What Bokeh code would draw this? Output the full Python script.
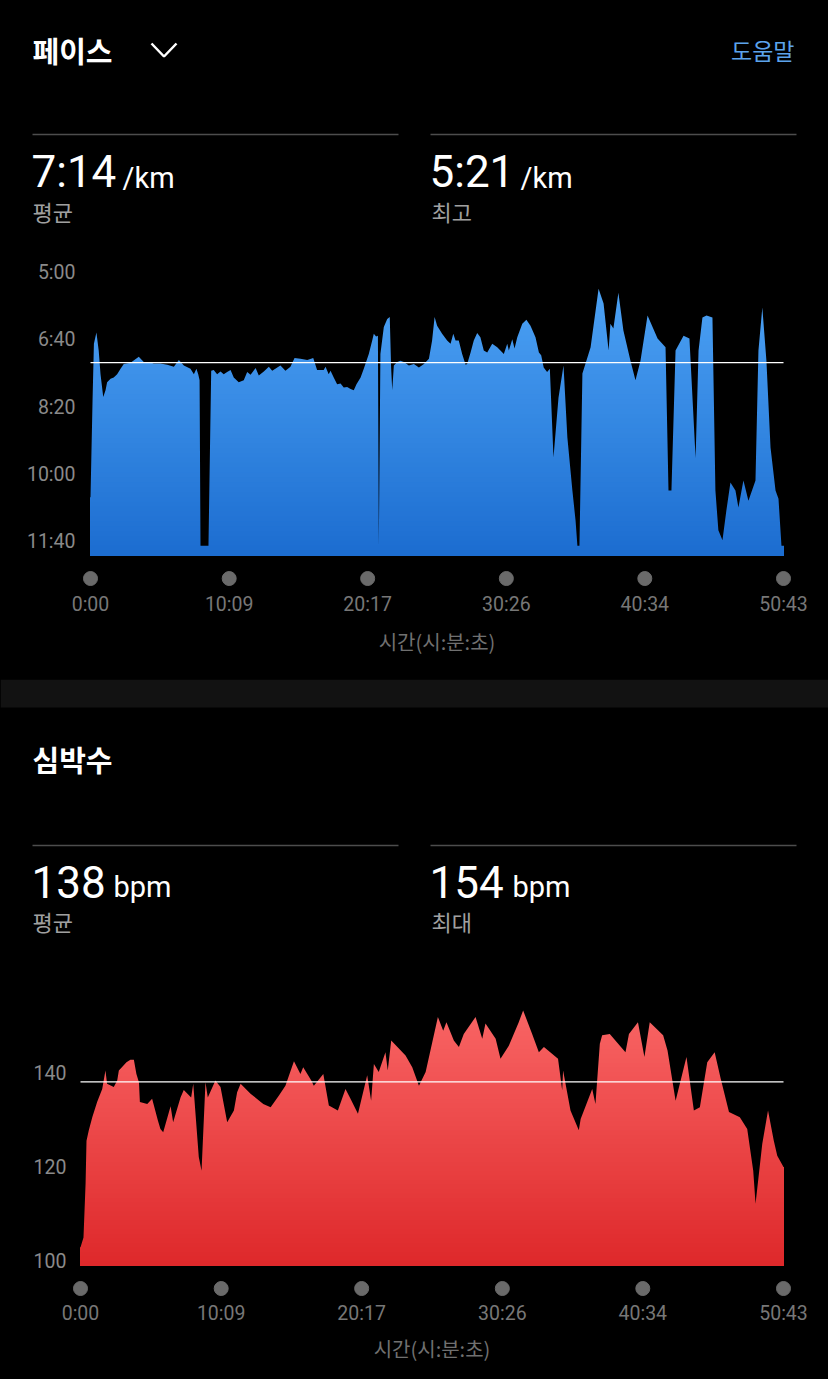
import numpy as np
from bokeh.plotting import figure
from bokeh.layouts import column
from bokeh.models import Range1d, FixedTicker
from bokeh.core.properties import value
from bokeh.embed import file_html
from bokeh.resources import INLINE

# ---------------- data ----------------
time_ticks = [0, 609, 1217, 1826, 2434, 3043]
time_tick_labels = ["0:00", "10:09", "20:17", "30:26", "40:34", "50:43"]
x_axis_title = "시간(시:분:초)"

pace_ticks = [300, 400, 500, 600, 700]
pace_tick_labels = ["5:00", "6:40", "8:20", "10:00", "11:40"]

# elapsed seconds
pace_time = [0, 9, 15, 26, 36, 44, 56, 66, 73, 88,
             102, 117, 132, 146, 176, 212, 234, 256, 278, 307,
             337, 366, 388, 410, 439, 454, 465, 473, 479, 483,
             518, 530, 541, 556, 571, 585, 600, 615, 629, 651,
             673, 688, 703, 725, 739, 761, 783, 798, 820, 834,
             856, 878, 896, 922, 952, 978, 995, 1024, 1032, 1046,
             1054, 1068, 1083, 1098, 1112, 1127, 1142, 1156, 1168, 1186,
             1200, 1222, 1237, 1244, 1254, 1262, 1266, 1273, 1288, 1303,
             1314, 1320, 1325, 1332, 1347, 1361, 1376, 1398, 1420, 1442,
             1464, 1486, 1500, 1511, 1522, 1544, 1566, 1581, 1593, 1603,
             1617, 1632, 1647, 1654, 1669, 1683, 1698, 1712, 1727, 1742,
             1764, 1786, 1800, 1815, 1830, 1837, 1852, 1862, 1874, 1896,
             1914, 1932, 1954, 1969, 1979, 1990, 2005, 2017, 2033, 2055,
             2077, 2094, 2116, 2130, 2138, 2147, 2160, 2196, 2231, 2253,
             2275, 2283, 2296, 2318, 2340, 2371, 2393, 2415, 2446, 2490,
             2525, 2538, 2551, 2569, 2604, 2630, 2657, 2670, 2687, 2705,
             2731, 2744, 2757, 2775, 2792, 2810, 2832, 2845, 2867, 2889,
             2920, 2933, 2950, 2968, 2986, 3008, 3021, 3034, 3043]
# pace, seconds per km
pace_sec = [634, 490, 406, 389, 416, 451, 485, 475, 463, 458,
            456, 451, 443, 436, 434, 425, 433, 433, 435, 435,
            437, 440, 430, 438, 443, 451, 443, 451, 460, 706,
            706, 446, 445, 451, 447, 451, 448, 445, 456, 463,
            460, 448, 452, 442, 453, 447, 440, 446, 441, 438,
            446, 440, 427, 428, 430, 427, 445, 445, 440, 451,
            446, 456, 466, 465, 471, 470, 473, 475, 466, 456,
            443, 421, 401, 391, 395, 394, 706, 421, 381, 369,
            366, 441, 475, 438, 433, 431, 433, 438, 436, 441,
            436, 428, 401, 366, 379, 391, 401, 406, 391, 401,
            401, 421, 437, 436, 419, 401, 390, 396, 416, 419,
            406, 411, 416, 421, 406, 416, 399, 413, 396, 376,
            370, 379, 396, 419, 423, 441, 448, 443, 575, 486,
            438, 545, 624, 669, 706, 706, 450, 411, 324, 346,
            416, 376, 383, 330, 386, 431, 460, 431, 364, 398,
            411, 624, 624, 416, 394, 398, 576, 416, 367, 364,
            367, 624, 683, 698, 654, 612, 624, 649, 609, 639,
            609, 416, 352, 431, 560, 624, 636, 706, 706]
pace_avg = 434   # 7:14 /km
pace_best = 321  # 5:21 /km

hr_ticks = [100, 120, 140]
hr_tick_labels = ["100", "120", "140"]
hr_time = [0, 13, 22, 26, 36, 51, 72, 94, 108, 115,
           144, 159, 166, 199, 216, 231, 242, 253, 257, 289,
           310, 335, 346, 358, 390, 401, 433, 447, 479, 488,
           512, 524, 541, 551, 584, 606, 635, 664, 678, 693,
           736, 791, 823, 859, 887, 924, 952, 964, 999, 1010,
           1051, 1075, 1114, 1147, 1166, 1201, 1241, 1258, 1270, 1291,
           1320, 1330, 1345, 1407, 1436, 1465, 1494, 1547, 1570, 1584,
           1616, 1638, 1659, 1710, 1739, 1753, 1797, 1818, 1854, 1897,
           1916, 1955, 1984, 2006, 2067, 2085, 2089, 2121, 2157, 2165,
           2215, 2229, 2248, 2258, 2291, 2359, 2374, 2413, 2441, 2464,
           2522, 2541, 2576, 2623, 2655, 2681, 2713, 2745, 2771, 2807,
           2854, 2886, 2912, 2922, 2951, 2976, 3001, 3016, 3043]
hr_bpm = [102.8, 104.9, 116.4, 125.5, 127.7, 130.5, 133.7, 136.5, 140.4, 137.6,
          136.9, 138.3, 140.4, 142.2, 142.7, 142.7, 139.7, 137.9, 133.7, 133.3,
          134.4, 129.8, 128.0, 127.3, 132.8, 129.4, 134.7, 136.3, 134.7, 137.6,
          122.0, 119.1, 137.9, 134.7, 138.3, 136.9, 129.4, 131.9, 135.8, 137.6,
          135.5, 133.3, 132.6, 135.1, 137.2, 142.4, 139.7, 141.1, 138.3, 137.2,
          139.7, 133.0, 131.9, 136.5, 134.7, 131.2, 139.4, 134.0, 141.8, 140.1,
          144.3, 140.4, 146.8, 143.6, 141.1, 137.2, 140.1, 151.8, 148.9, 150.7,
          146.8, 145.4, 148.2, 151.8, 147.2, 150.4, 147.2, 142.9, 145.7, 150.7,
          153.2, 148.2, 144.3, 145.4, 142.9, 136.2, 140.4, 131.9, 127.7, 130.1,
          136.5, 133.3, 146.1, 147.9, 148.2, 144.3, 148.2, 150.7, 143.3, 150.7,
          147.9, 144.7, 134.0, 143.3, 131.9, 132.6, 142.2, 144.3, 138.7, 131.6,
          130.5, 128.0, 119.1, 112.1, 124.8, 131.9, 125.5, 122.3, 119.9]
hr_avg = 138
hr_max = 154

W = 828
KR = "Noto Sans CJK KR"
NUM = "Roboto"


def fmt_pace(s):
    return "%d:%02d" % (s // 60, s % 60)


def hex_rgb(h):
    return tuple(int(h[i:i + 2], 16) for i in (1, 3, 5))


def lerp(c1, c2, f):
    a, b = hex_rgb(c1), hex_rgb(c2)
    return "#%02x%02x%02x" % tuple(int(round(a[k] + (b[k] - a[k]) * f)) for k in range(3))


def gradient_area(p, x, v, floor, top, inner, beyond, pad, c_floor, c_top, n=60):
    """Vertical-gradient area under the series: gradient quads, then a black
    mask above the series line (extended past the ends to hide AA seams)."""
    x = np.asarray(x, dtype=float)
    v = np.asarray(v, dtype=float)
    edges = np.linspace(floor, top, n + 1)
    edges[-1] = inner
    for i in reversed(range(n)):
        col = lerp(c_floor, c_top, (i + 0.5) / n)
        p.quad(left=[x[0]], right=[x[-1]], bottom=[floor], top=[edges[i + 1]],
               fill_color=col, line_color=None)
    mx = np.concatenate([[x[0] - pad], x, [x[-1] + pad]])
    mv = np.concatenate([[v[0]], v, [v[-1]]])
    p.varea(x=mx, y1=mv, y2=np.full_like(mx, beyond), fill_color="black")


def base_fig(height, xr, yr):
    p = figure(width=W, height=height, x_range=xr, y_range=yr, output_backend="svg",
               toolbar_location=None)
    p.background_fill_color = "black"
    p.border_fill_color = "black"
    p.outline_line_color = None
    p.grid.visible = False
    p.frame_align = False
    return p


def header_fig(height, y0, y1):
    p = figure(width=W, height=height, x_range=Range1d(0, W), y_range=Range1d(y1, y0),
               output_backend="svg", toolbar_location=None,
               x_axis_location=None, y_axis_location=None, min_border=0)
    p.background_fill_color = "black"
    p.border_fill_color = "black"
    p.outline_line_color = None
    p.grid.visible = False
    p.frame_align = False
    return p


def style_chart(p, yticks, ylabels, ystand, xstand, tstand):
    p.xaxis.ticker = FixedTicker(ticks=time_ticks)
    p.xaxis.major_label_overrides = {t: l for t, l in zip(time_ticks, time_tick_labels)}
    p.yaxis.ticker = FixedTicker(ticks=yticks)
    p.yaxis.major_label_overrides = {t: l for t, l in zip(yticks, ylabels)}
    for ax in (p.xaxis, p.yaxis):
        ax.axis_line_color = None
        ax.major_tick_line_color = None
        ax.minor_tick_line_color = None
        ax.major_tick_out = 0
        ax.major_tick_in = 0
        ax.major_label_text_font = NUM
    p.yaxis.major_label_text_font_size = "19.5px"
    p.yaxis.major_label_text_color = "#8a8a8a"
    p.yaxis.major_label_standoff = ystand
    p.xaxis.major_label_text_font_size = "19.5px"
    p.xaxis.major_label_text_color = "#777777"
    p.xaxis.major_label_standoff = xstand
    p.xaxis.axis_label = x_axis_title
    p.xaxis.axis_label_text_font = KR
    p.xaxis.axis_label_text_font_size = "20px"
    p.xaxis.axis_label_text_font_style = "normal"
    p.xaxis.axis_label_text_color = "#707070"
    p.xaxis.axis_label_standoff = tstand


def header_text(p, x, y, txt, size, color="white", font=KR, style="normal",
                align="left", baseline="middle"):
    p.text(x=[x], y=[y], text=[txt], text_font=value(font), text_font_size=size,
           text_color=color, text_font_style=style, text_align=align, text_baseline=baseline)


# ---------------- pace header (y 0..255) ----------------
h1 = header_fig(255, 0, 255)
header_text(h1, 32, 49, "페이스", "29px", style="bold")
h1.line(x=[151, 163.5, 176], y=[43, 56, 43], line_color="white", line_width=2.5)
header_text(h1, 794, 49, "도움말", "23px", color="#5ca3ec", align="right")
h1.segment(x0=[32, 430], y0=[134, 134], x1=[398, 796], y1=[134, 134],
           line_color="#4d4d4d", line_width=1.5)
header_text(h1, 31, 171, fmt_pace(pace_avg), "44px", font=NUM)
header_text(h1, 122, 177, "/km", "29px", font=NUM)
header_text(h1, 32, 210, "평균", "22px", color="#a0a0a0")
header_text(h1, 429, 171, fmt_pace(pace_best), "44px", font=NUM)
header_text(h1, 520, 177, "/km", "29px", font=NUM)
header_text(h1, 431, 210, "최고", "22px", color="#a0a0a0")

# ---------------- pace chart (y 255..679) ----------------
PACE_FLOOR = 720.5
PACE_DOT = 754.7
sx1 = 3043 / 693.0
p1 = base_fig(424, Range1d(-8 * sx1, 3043 + 8 * sx1), Range1d(772.5, 285.1))
p1.min_border_left = 82
p1.min_border_right = 37
p1.min_border_top = 7
p1.min_border_bottom = 89
gradient_area(p1, pace_time, pace_sec, PACE_FLOOR, 285.1, 292.0, 240.0, 20 * sx1,
              "#1c6dd0", "#51a7f8")
p1.segment(x0=[time_ticks[0]], y0=[pace_avg], x1=[time_ticks[-1]], y1=[pace_avg],
           line_color="white", line_width=1.2)
p1.scatter(x=time_ticks, y=[PACE_DOT] * len(time_ticks), size=14, color="#6a6a6a")
style_chart(p1, pace_ticks, pace_tick_labels, 7, 2, 8)

# ---------------- HR header (y 679..990) ----------------
h2 = header_fig(311, 679, 990)
h2.quad(left=[0], right=[W], top=[679], bottom=[707], fill_color="#121212", line_color=None)
header_text(h2, 32, 758, "심박수", "29px", style="bold")
h2.segment(x0=[32, 430], y0=[845, 845], x1=[398, 796], y1=[845, 845],
           line_color="#4d4d4d", line_width=1.5)
header_text(h2, 31, 881, str(hr_avg), "44px", font=NUM)
header_text(h2, 113, 886, "bpm", "29px", font=NUM)
header_text(h2, 32, 920, "평균", "22px", color="#a0a0a0")
header_text(h2, 429, 881, str(hr_max), "44px", font=NUM)
header_text(h2, 512, 886, "bpm", "29px", font=NUM)
header_text(h2, 431, 920, "최대", "22px", color="#a0a0a0")

# ---------------- HR chart (y 990..1379) ----------------
HR_FLOOR = 98.94
HR_DOT = 94.04
sx2 = 3043 / 703.0
p2 = base_fig(389, Range1d(-8 * sx2, 3043 + 8 * sx2), Range1d(91.49, 156.38))
p2.min_border_left = 72
p2.min_border_right = 37
p2.min_border_top = 5
p2.min_border_bottom = 79
gradient_area(p2, hr_time, hr_bpm, HR_FLOOR, 156.38, 155.3, 170.0, 20 * sx2,
              "#de282a", "#fa6868")
p2.segment(x0=[time_ticks[0]], y0=[hr_avg], x1=[time_ticks[-1]], y1=[hr_avg],
           line_color="white", line_width=1.2)
p2.scatter(x=time_ticks, y=[HR_DOT] * len(time_ticks), size=14, color="#6a6a6a")
style_chart(p2, hr_ticks, hr_tick_labels, 6, 1, 6)

layout = column(h1, p1, h2, p2, spacing=0)
layout.styles = {"background-color": "black"}
open("out.html", "w").write(file_html(layout, INLINE))
